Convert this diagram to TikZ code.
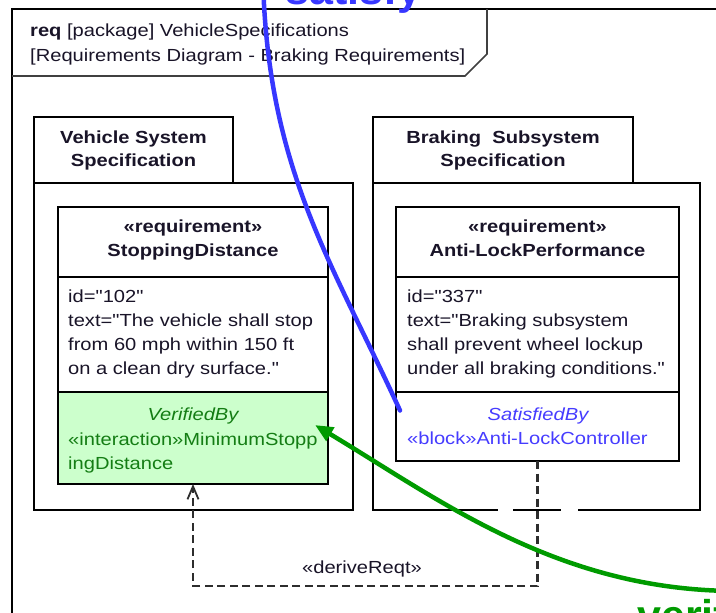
\documentclass[tikz,border=0pt]{standalone}
\usepackage{fontspec}
\usetikzlibrary{arrows.meta}
\newfontfamily\umlfont[FakeStretch=1.15]{Liberation Sans}
\newfontfamily\labfont{Liberation Sans}
\definecolor{satblue}{RGB}{55,55,255}
\definecolor{vergreen}{RGB}{0,155,0}
\definecolor{vertext}{RGB}{20,125,20}
\definecolor{sattext}{RGB}{70,60,255}
\definecolor{vfill}{RGB}{204,255,204}
\definecolor{dashgray}{RGB}{45,45,45}
\definecolor{inktext}{RGB}{25,20,40}
\begin{document}
\begin{tikzpicture}[x=1pt,y=-1pt,
  box/.style={draw=black, line width=1.9pt, outer sep=0pt, inner sep=0pt, anchor=north west},
  txt/.style={font=\umlfont\fontsize{17.5}{24}\selectfont, inner sep=0pt, anchor=base west, text=inktext},
  ctxt/.style={txt, anchor=base},
  btxt/.style={ctxt, font=\umlfont\bfseries\fontsize{17.5}{24}\selectfont},
  frameline/.style={draw=black, line width=2pt},
  derive/.style={draw=dashgray, line width=2.2pt, dash pattern=on 8pt off 4.5pt},
  sline/.style={draw=satblue, line width=4.5pt, line cap=round},
  vline/.style={draw=vergreen, line width=4.5pt},
  biglabel/.style={font=\labfont\bfseries\fontsize{43}{50}\selectfont, inner sep=0pt, anchor=base west}
]
\useasboundingbox (0,0) rectangle (716,613);
\clip (0,0) rectangle (716,613);
\fill[white] (0,0) rectangle (716,613);

% frame and header
\draw[frameline] (12,640) -- (12,9) -- (740,9);
\draw[draw=black!75, line width=1.6pt] (12,76) -- (465,76) -- (487,54) -- (487,9);
\node[txt] (hdr1) at (30,37) {\textbf{req} [package] VehicleSpecifications};
\node[txt] (hdr2) at (30,61) {[Requirements Diagram - Braking Requirements]};

% left package
\node[box, minimum width=319pt, minimum height=327pt] (lbody) at (34,183) {};
\node[box, minimum width=199pt, minimum height=66pt] (ltab) at (34,117) {};
\node[btxt] (ltab1) at (133.5,143) {Vehicle System};
\node[btxt] (ltab2) at (133.5,166) {Specification};
\node[box, minimum width=270pt, minimum height=70pt] (lreqh) at (58,207) {};
\node[box, minimum width=270pt, minimum height=115pt] (lreqt) at (58,277) {};
\node[box, fill=vfill, minimum width=270pt, minimum height=92pt] (verby) at (58,392) {};
\node[btxt] (lst) at (193,232) {«requirement»};
\node[btxt] (lname) at (193,256) {StoppingDistance};
\node[txt] (lt1) at (68,302) {id="102"};
\node[txt] (lt2) at (68,326) {text="The vehicle shall stop};
\node[txt] (lt3) at (68,350) {from 60 mph within 150 ft};
\node[txt] (lt4) at (68,374) {on a clean dry surface."};
\node[ctxt, text=vertext] (lv1) at (193,420) {\itshape VerifiedBy};
\node[txt, text=vertext] (lv2) at (68,445) {«interaction»MinimumStopp};
\node[txt, text=vertext] (lv3) at (68,469) {ingDistance};

% right package
\node[box, minimum width=327pt, minimum height=327pt] (rbody) at (373,183) {};
\node[box, minimum width=260pt, minimum height=66pt] (rtab) at (373,117) {};
\node[btxt] (rtab1) at (503,143) {Braking\ \ Subsystem};
\node[btxt] (rtab2) at (503,166) {Specification};
\node[box, minimum width=283pt, minimum height=70pt] (rreqh) at (396,207) {};
\node[box, minimum width=283pt, minimum height=115pt] (rreqt) at (396,277) {};
\node[box, minimum width=283pt, minimum height=69pt] (satby) at (396,392) {};
\node[btxt] (rst) at (537.5,232) {«requirement»};
\node[btxt] (rname) at (537.5,256) {Anti-LockPerformance};
\node[txt] (rt1) at (407,302) {id="337"};
\node[txt] (rt2) at (407,326) {text="Braking subsystem};
\node[txt] (rt3) at (407,350) {shall prevent wheel lockup};
\node[txt] (rt4) at (407,374) {under all braking conditions."};
\node[ctxt, text=sattext] (rs1) at (538,420) {\itshape SatisfiedBy};
\node[txt, text=sattext] (rs2) at (407,444) {«block»Anti-LockController};

% gaps in right package bottom edge
\fill[white] (498,505) rectangle (513,515);
\fill[white] (561,505) rectangle (578,515);

% deriveReqt
\draw[derive, -{Straight Barb[length=13pt,width=11pt,line width=1.8pt]}] (satby.south) -- ++(0,125) -| (verby.south);
\node[ctxt] (dlabel) at (362,573) {«deriveReqt»};

% satisfy
\node[biglabel, text=satblue] (satlabel) at (285,5) {satisfy};
\coordinate (satstart) at (263,-20);
\draw[sline] (satstart) .. controls (268,170) and (332,262) .. ([shift={(4,-16)}]satby.west);

% verify
\node[biglabel, text=vergreen] (verlabel) at (637,630) {verify};
\coordinate (verstart) at (740,591);
\draw[vline, -{Triangle[length=18pt,width=15pt]}] (verstart) .. controls (560,592) and (440,500) .. ([shift={(-13,-13)}]verby.east);
\end{tikzpicture}
\end{document}
